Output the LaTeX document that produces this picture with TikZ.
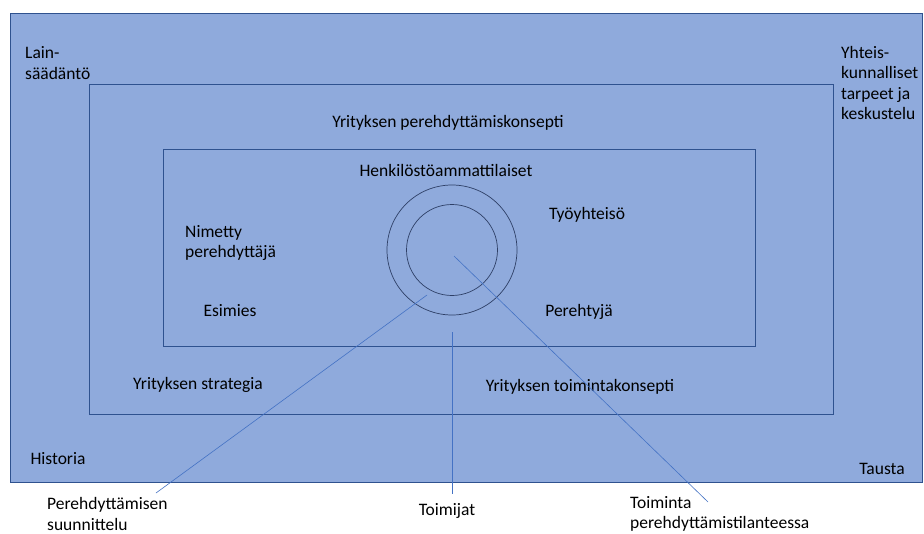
\documentclass[tikz,border=0pt]{standalone}
\usepackage{fontspec}
\setmainfont{Carlito}
\usepackage{xcolor}

\definecolor{boxfill}{HTML}{8FAADC}
\definecolor{boxline}{HTML}{2F528F}
\definecolor{ringline}{HTML}{2E3F66}
\definecolor{leadline}{HTML}{4472C4}

\tikzset{
  lbl/.style={inner sep=0pt, font=\fontsize{17.5}{20.5}\selectfont, align=left},
  frame/.style={draw=boxline, line width=0.8pt},
  lead/.style={draw=leadline, line width=0.6pt}
}

\begin{document}
\begin{tikzpicture}[x=1pt, y=-1pt]
\useasboundingbox[fill=white] (0,0) rectangle (924,533);

% frames
\draw[frame, fill=boxfill] (10,13) rectangle (922,482);
\draw[frame] (89,84) rectangle (833,414);
\draw[frame] (163,149) rectangle (755,346);

% rings
\node[draw=ringline, line width=0.7pt, circle, minimum size=130pt, inner sep=0pt] (ringout) at (452,250) {};
\node[draw=ringline, line width=0.7pt, circle, minimum size=91pt, inner sep=0pt] (ringin) at (452,250) {};

% labels
\node[lbl, anchor=west] (lain) at (25,63) {Lain-\\säädäntö};
\node[lbl, anchor=west] (yht) at (841,83) {Yhteis-\\kunnalliset\\tarpeet ja\\keskustelu};
\node[lbl] (konsepti) at (448,123) {Yrityksen perehdyttämiskonsepti};
\node[lbl] (henk) at (446,170) {Henkilöstöammattilaiset};
\node[lbl] (tyo) at (587,215) {Työyhteisö};
\node[lbl, anchor=west] (nim) at (185,243) {Nimetty\\perehdyttäjä};
\node[lbl] (esi) at (230,311) {Esimies};
\node[lbl] (pereh) at (579,312) {Perehtyjä};
\node[lbl] (strat) at (198,385) {Yrityksen strategia};
\node[lbl] (toimk) at (580,387) {Yrityksen toimintakonsepti};
\node[lbl] (hist) at (58,459) {Historia};
\node[lbl] (tausta) at (882,469) {Tausta};
\node[lbl, anchor=west] (suun) at (47,514) {Perehdyttämisen\\suunnittelu};
\node[lbl] (toimijat) at (447,511) {Toimijat};
\node[lbl, anchor=west] (tilanne) at (630,514) {Toiminta\\perehdyttämistilanteessa};

% leader lines
\coordinate (a1) at (427,295);
\coordinate (a2) at (156,493);
\coordinate (b1) at (452,332);
\coordinate (b2) at (452,494);
\coordinate (c1) at (454,256);
\coordinate (c2) at (708,502);
\draw[lead] (a1) -- (a2);
\draw[lead] (b1) -- (b2);
\draw[lead] (c1) -- (c2);

\end{tikzpicture}
\end{document}
